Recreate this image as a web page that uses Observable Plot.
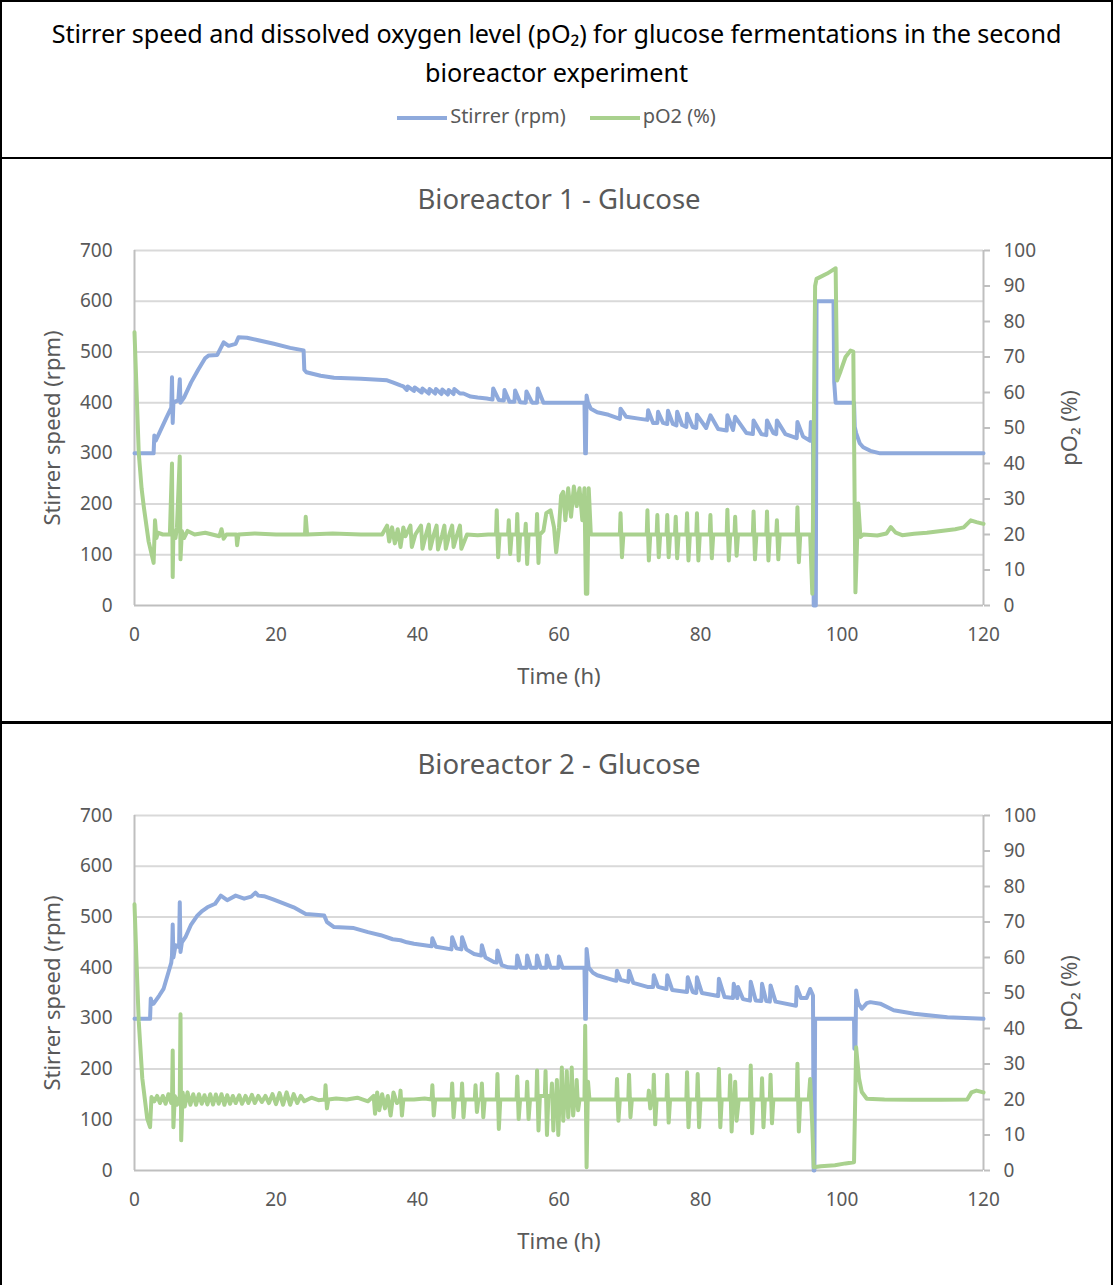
<!DOCTYPE html>
<html>
<head>
<meta charset="utf-8">
<script src="https://cdn.jsdelivr.net/npm/d3@7"></script>
<script src="https://cdn.jsdelivr.net/npm/@observablehq/plot@0.6"></script>
<style>
  html, body { margin: 0; padding: 0; background: #fff; }
  #wrap { position: relative; width: 1113px; height: 1285px; overflow: hidden; font-family: "Noto Sans", "Open Sans", sans-serif; }
  .box { position: absolute; left: 0; width: 1113px; box-sizing: border-box; border: 2px solid #000; }
  #header { top: 0; height: 159px; }
  #title { position: absolute; top: 12px; left: 0; width: 100%; text-align: center; font-size: 25.2px; line-height: 39px; color: #000; letter-spacing: -0.1px; }
  #legend { position: absolute; top: 100px; left: 0; width: 100%; text-align: center; font-size: 20px; color: #595959; }
  .sw { display: inline-block; width: 50px; height: 0; border-top: 4px solid; vertical-align: middle; margin-right: 3px; }
  .item { display: inline-block; margin: 0 12px; }
  .panel { position: absolute; left: 0; }
</style>
</head>
<body>
<div id="wrap">
  <div class="box" id="header">
    <div id="title">Stirrer speed and dissolved oxygen level (pO₂) for glucose fermentations in the second<br>bioreactor experiment</div>
    <div id="legend"><span class="item"><span class="sw" style="border-color:#8FAADC"></span>Stirrer (rpm)</span><span class="item"><span class="sw" style="border-color:#A9D18E"></span>pO2 (%)</span></div>
  </div>
  <div class="box" style="top:157px;height:567px;"></div>
  <div class="box" style="top:721px;height:566px;"></div>
  <div class="panel" id="p1" style="top:160px"></div>
  <div class="panel" id="p2" style="top:725px"></div>
</div>
<script>
// ---------- Data (time in h, stirrer in rpm, pO2 in %) ----------
const panelTitles = ["Bioreactor 1 - Glucose", "Bioreactor 2 - Glucose"];
const seriesNames = ["Stirrer (rpm)", "pO2 (%)"];
const rpmTicks = [0, 100, 200, 300, 400, 500, 600, 700];
const po2Ticks = [0, 10, 20, 30, 40, 50, 60, 70, 80, 90, 100];
const timeTicks = [0, 20, 40, 60, 80, 100, 120];

const stirrer1 = [
  [0,300],[2.7,300],[2.8,335],[3.0,325],[3.5,340],[4.5,370],[5.2,390],[5.3,450],[5.4,360],[5.5,400],[6.2,405],[6.4,446],[6.5,400],
  [7.0,410],[8.0,440],[9.0,465],[10.0,488],[10.5,493],[11.7,494],[12.6,519],[13.3,512],[14.3,516],[14.7,529],[15.9,528],[17.5,523],
  [19.7,516],[22,508],[23.9,503],[24.0,465],[24.3,460],[26.3,453],[28.2,449],[32,447],[35.7,444],[36.5,440],[37.6,434],
  [38.0,432],[38.5,425],[38.6,432],[39.5,423],[39.6,430],[40.6,420],[40.7,428],[41.6,418],[41.7,427],[42.5,418],[42.6,427],
  [43.4,417],[43.5,426],[44.3,416],[44.4,425],[45.1,417],[45.2,427],[46.0,418],[46.5,418],[47.5,412],[48.5,410],[49.8,408],
  [50.6,406],[50.7,428],[51.5,405],[52.2,404],[52.3,425],[53.0,402],[53.7,402],[53.8,424],[54.5,401],[55.3,400],[55.4,422],
  [56.2,400],[56.9,400],[57.0,428],[57.8,400],[63.6,400],[63.7,300],[63.8,300],[63.9,414],[64.1,400],[64.5,388],[65.4,381],
  [67,376],[68.6,368],[68.7,388],[69.5,372],[71.5,368],[72.5,366],[72.6,385],[73.3,360],[73.9,360],[74.0,382],[74.7,360],
  [75.3,358],[75.4,384],[76.1,358],[76.6,355],[76.7,382],[77.4,356],[78.0,352],[78.1,378],[78.9,352],[79.4,350],[79.5,376],
  [80.8,350],[81.4,375],[82.5,348],[83.7,345],[83.8,375],[84.6,346],[84.9,372],[86.5,340],[87.4,338],[87.5,365],[88.6,338],
  [89.3,336],[89.4,365],[90.3,340],[90.7,338],[90.8,365],[92,338],[93.6,330],[93.7,362],[94.5,333],[95.5,325],[95.6,362],
  [95.9,330],[96.0,0],[96.3,0],[96.4,600],[98.8,600],[98.9,440],[99.1,400],[101.7,400],[101.8,352],[102.0,340],[102.5,320],
  [103,312],[104,305],[105.4,300],[120,300]
];

const po2_1 = [
  [0,77],[0.3,60],[0.6,43],[1.0,33],[1.3,28],[2.0,18],[2.7,12],[2.9,24],[3.1,19],[3.3,20.5],[4,20],[5.0,20],[5.3,40],[5.4,8],
  [5.5,21],[5.8,19],[6.0,22],[6.4,42],[6.5,13],[6.7,21],[7.0,19],[7.5,21],[8.5,20],[10,20.5],[12,19.5],[12.3,21.5],[12.6,18.8],
  [13,20],[14.4,20],[14.5,17],[14.7,20],[17,20.3],[20,20],[24.1,20],[24.2,25],[24.4,20],[28,20.3],[32,20],[35,20],[35.7,22.5],
  [36.0,18],[36.4,22],[36.8,17.5],[37.2,21.5],[37.6,16.5],[38.0,22],[38.3,19.5],[39.0,22.5],[39.2,16.5],[39.7,20],[40.5,22.5],
  [40.7,16],[41.2,20],[41.6,22.8],[41.8,16],[42.3,20],[42.7,22.5],[42.9,15.8],[43.5,20],[43.8,22.5],[44.0,16],[44.5,20],
  [44.9,22.5],[45.1,16.5],[45.6,20],[46.0,22.5],[46.2,16],[47,20],[48.5,19.8],[50,20],[51.1,20],[51.2,26.8],[51.4,13.6],
  [51.6,20],[52.8,20],[52.9,24],[53.1,14.5],[53.3,20],[54.0,20],[54.1,25.8],[54.3,12.7],[54.5,20],[55.2,20],[55.3,23],
  [55.5,11.7],[55.7,20],[56.8,20],[56.9,25.8],[57.1,12],[57.3,20],[57.8,21],[58.2,26],[58.8,26.8],[59.3,22],[59.6,15],
  [60.0,22],[60.3,31],[60.6,32],[60.9,24],[61.3,33],[61.7,25],[62.1,33.5],[62.5,28],[62.9,33],[63.3,24],[63.6,33],[63.8,3.3],
  [64.0,3.3],[64.2,33],[64.5,20],[65,20],[68.6,20],[68.7,26],[68.9,13.6],[69.1,20],[72.4,20],[72.5,26.8],[72.7,12.7],[72.9,20],
  [73.8,20],[73.9,25.5],[74.1,13.6],[74.3,20],[75.2,20],[75.3,25.5],[75.5,13.6],[75.7,20],[76.4,20],[76.5,25],[76.7,13.3],
  [76.9,20],[78.0,20],[78.1,26],[78.3,12.7],[78.5,20],[79.4,20],[79.5,26],[79.7,12.7],[79.9,20],[81.3,20],[81.4,25.5],
  [81.6,13.3],[81.8,20],[83.7,20],[83.8,27],[84.0,12.7],[84.2,20],[84.8,20],[84.9,25],[85.1,14],[85.3,20],[87.4,20],[87.5,26.5],
  [87.7,13],[87.9,20],[89.3,20],[89.4,26.5],[89.6,12.7],[89.8,20],[90.7,20],[90.8,24],[91.0,13],[91.2,20],[93.6,20],[93.7,27.7],
  [93.9,12.2],[94.1,20],[95.3,20],[95.5,20],[95.8,3.3],[96.2,90],[96.4,92],[97.9,93.5],[99.0,94.9],[99.1,95],[99.3,63.4],
  [99.8,66],[100.5,70],[101.2,71.8],[101.6,71.5],[101.9,3.7],[102.3,28.7],[102.6,19.3],[103,20],[105,19.7],[106.3,20.3],
  [106.9,22.1],[107.6,20.5],[108.5,19.8],[110.2,20.2],[112,20.5],[114,21],[116,21.5],[117.2,22],[118.2,24],[119,23.5],[120,23]
];

const stirrer2 = [
  [0,299],[2.2,299],[2.3,339],[2.5,328],[2.7,329],[3.5,345],[4.1,358],[4.8,391],[5.2,410],[5.3,424],[5.4,485],[5.5,420],
  [5.8,444],[6.3,440],[6.4,529],[6.5,431],[6.7,450],[7.2,460],[8.0,485],[8.9,503],[9.6,512],[10.3,519],[11.4,526],[12.2,542],
  [13.1,533],[14.3,542],[15.5,536],[16.5,540],[17.1,548],[17.5,542],[18.3,541],[19.5,535],[20.6,529],[22.5,519],[24.2,506],
  [26.0,504],[26.8,503],[27.2,490],[28.2,480],[31,478],[33,470],[34.8,464],[36.5,456],[37.6,454],[38.5,450],[39.5,447],
  [41,444],[42.0,442],[42.1,458],[42.6,441],[44,438],[44.8,436],[44.9,460],[45.5,438],[46.2,436],[46.3,460],[46.9,436],
  [48.0,427],[49.0,424],[49.1,444],[49.6,420],[50.8,411],[51.2,410],[51.3,434],[51.9,405],[52.7,401],[54.0,400],[54.1,424],
  [54.6,400],[55.4,400],[55.5,424],[56.0,400],[56.8,400],[56.9,424],[57.4,400],[58.2,400],[58.3,424],[58.8,400],[59.9,400],
  [60.0,422],[60.5,400],[63.6,400],[63.7,299],[63.8,299],[63.9,437],[64.2,400],[64.8,390],[65.4,385],[67.8,375],[68.1,374],
  [68.2,394],[68.7,376],[69.8,372],[69.9,394],[70.5,370],[72.5,362],[73.3,362],[73.4,385],[74.0,362],[75.2,358],[75.3,385],
  [76.0,356],[78.1,352],[78.2,381],[78.9,352],[79.4,350],[79.5,381],[80.2,350],[82.5,344],[82.6,378],[83.4,342],[84.6,340],
  [84.7,368],[85.2,340],[85.3,362],[86.0,338],[87.0,335],[87.1,372],[87.8,335],[88.6,334],[88.7,368],[89.3,334],[89.8,333],
  [89.9,365],[90.6,333],[93.5,325],[93.6,362],[94.2,340],[95.0,340],[95.5,358],[95.9,345],[96.0,0],[96.1,0],[96.2,299],
  [101.7,299],[101.75,240],[101.9,240],[102.0,355],[102.3,330],[102.8,319],[103.5,330],[104,332],[105.4,329],[107.3,316],
  [110.2,309],[114.9,302],[120,299]
];

const po2_2 = [
  [0,75],[0.3,58],[0.6,42],[1.1,26],[1.8,14.6],[2.2,12.2],[2.4,20.7],[2.8,19.5],[3.2,21],[3.6,19],[4.0,21],[4.4,18.8],
  [4.8,21.5],[5.2,19],[5.3,19],[5.4,33.8],[5.5,12.2],[5.7,21],[6.0,18.5],[6.4,21],[6.5,44],[6.6,8.5],[6.8,22],[7.1,18],
  [7.5,22],[7.9,18.5],[8.3,21.5],[8.7,18.5],[9.1,21.5],[9.5,18.8],[9.9,21.2],[10.3,18.6],[10.7,21.5],[11.1,18.6],[11.5,21.4],
  [11.9,18.8],[12.3,21.5],[12.7,18.5],[13.1,21.2],[13.5,18.8],[13.9,21],[14.3,19],[14.8,21.2],[15.2,18.8],[15.7,21],[16.1,19],
  [16.6,21.3],[17.0,19],[17.5,21],[18,19.3],[18.5,21],[19,19],[19.5,21.5],[20,18.7],[20.5,21.8],[21,18.5],[21.5,22],[22,18.5],
  [22.5,21.5],[23,19],[23.5,21],[24,19.5],[25,20.5],[26,19.8],[26.9,20],[27,24],[27.2,17.5],[27.4,20],[28.5,20.3],[30,20],
  [31.5,20.5],[33,19.5],[33.8,21],[34,16],[34.3,22],[34.6,17],[35,21.5],[35.4,17.5],[35.8,21],[36.2,15.5],[36.6,22],[37.1,19],
  [37.5,20],[37.6,22.5],[37.8,15.5],[38,20],[39.5,20],[41,20.3],[42.0,20],[42.1,24],[42.3,15.5],[42.5,20],[44.8,20],[44.9,24.5],
  [45.1,15],[45.3,20],[46.2,20],[46.3,24.5],[46.5,15],[46.7,20],[48.1,20],[48.2,24],[48.4,16.5],[48.6,20],[49.0,20],[49.1,24.5],
  [49.3,15],[49.5,20],[51.2,20],[51.3,27.2],[51.5,11.7],[51.7,20],[54.0,20],[54.1,26.5],[54.3,14.5],[54.5,20],[55.4,20],
  [55.5,25],[55.7,14.5],[55.9,20],[56.8,20],[56.9,28.2],[57.1,11.3],[57.3,21],[58.0,21],[58.1,28],[58.3,10],[58.5,21],[58.9,21],
  [59.0,24.5],[59.2,11.3],[59.4,21],[59.6,21],[59.7,25.5],[59.9,10],[60.1,21],[60.3,22],[60.4,29],[60.6,14],[60.8,21],[61.0,22],
  [61.1,28],[61.3,15],[61.5,21],[61.7,22],[61.8,29],[62.0,15.5],[62.2,20],[62.4,20],[62.5,25.5],[62.7,17],[62.9,20],[63.6,20],
  [63.7,40.8],[63.9,0.9],[64.1,25],[64.3,20],[68.1,20],[68.2,25.8],[68.4,14],[68.6,20],[69.8,20],[69.9,27],[70.1,15],[70.3,20],
  [72.6,20],[72.7,22.5],[72.9,17.5],[73.1,20],[73.3,20],[73.4,27],[73.6,13],[73.8,20],[75.2,20],[75.3,27],[75.5,13.5],[75.7,20],
  [78.0,20],[78.1,27.7],[78.3,12.2],[78.5,20],[79.5,20],[79.6,27.2],[79.8,12.2],[80.0,20],[82.5,20],[82.6,28.6],[82.8,12.2],
  [83.0,20],[84.1,20],[84.2,26.8],[84.4,11],[84.6,21],[84.8,20],[84.9,25],[85.1,14],[85.4,20],[87.0,20],[87.1,29.6],[87.3,10.5],
  [87.5,20],[88.6,20],[88.7,26],[88.9,12.2],[89.1,20],[89.8,20],[89.9,27],[90.1,13.3],[90.3,20],[93.6,20],[93.7,30.1],[93.9,11],
  [94.1,20],[95.3,20],[95.5,25.8],[95.8,12.5],[96.0,0.9],[97,1.2],[99,1.5],[100.5,2],[101.7,2.3],[102.0,34.7],[102.4,26],
  [102.8,22.1],[103.5,20.2],[106,20],[110,19.9],[114,19.9],[117.7,20],[118.3,22],[119,22.5],[120,22]
];

// ---------- Chart ----------
const BLUE = "#8FAADC", GREEN = "#A9D18E", GRID = "#D9D9D9", AXIS = "#BFBFBF", TXT = "#595959";
const RATIO = 700 / 100; // secondary axis (pO2 %) mapped onto primary (rpm)

function panel(title, stirrer, po2, height, mTop, mBottom) {
  return Plot.plot({
    width: 1113, height,
    marginLeft: 134, marginRight: 130, marginTop: mTop, marginBottom: mBottom,
    x: {domain: [0, 120]},
    y: {domain: [0, 700]},
    style: {fontFamily: '"Noto Sans", "Open Sans", sans-serif', fontSize: "19px", color: TXT, background: "transparent", overflow: "visible"},
    marks: [
      Plot.gridY(rpmTicks.filter(d => d > 0), {stroke: GRID, strokeOpacity: 1, strokeWidth: 2}),
      Plot.ruleY([0], {stroke: AXIS, strokeWidth: 2}),
      Plot.ruleX([0, 120], {stroke: AXIS, strokeWidth: 2}),
      Plot.axisY({ticks: rpmTicks, tickSize: 0, tickPadding: 22, label: null}),
      Plot.axisY({anchor: "right", ticks: po2Ticks.map(d => d * RATIO), tickFormat: d => Math.round(d / RATIO), tickSize: 6, tickPadding: 14, stroke: AXIS, strokeWidth: 2, label: null}),
      Plot.axisX({ticks: timeTicks, tickSize: 0, tickPadding: 22, label: null}),
      Plot.line(stirrer, {x: d => d[0], y: d => d[1], stroke: BLUE, strokeWidth: 4, strokeLinejoin: "round"}),
      Plot.line(po2, {x: d => d[0], y: d => d[1] * RATIO, stroke: GREEN, strokeWidth: 4, strokeLinejoin: "round"}),
      Plot.text([title], {frameAnchor: "top", lineAnchor: "middle", dy: -50, fontSize: 27.5, fill: TXT}),
      Plot.text(["Stirrer speed (rpm)"], {frameAnchor: "left", textAnchor: "middle", lineAnchor: "middle", dx: -82, rotate: -90, fontSize: 22, fill: TXT}),
      Plot.text(["pO₂ (%)"], {frameAnchor: "right", textAnchor: "middle", lineAnchor: "middle", dx: 86, rotate: -90, fontSize: 22, fill: TXT}),
      Plot.text(["Time (h)"], {frameAnchor: "bottom", lineAnchor: "middle", dy: 71, fontSize: 22, fill: TXT})
    ]
  });
}

document.getElementById("p1").appendChild(panel(panelTitles[0], stirrer1, po2_1, 560, 90, 115));
document.getElementById("p2").appendChild(panel(panelTitles[1], stirrer2, po2_2, 558, 90, 113));
</script>
</body>
</html>
